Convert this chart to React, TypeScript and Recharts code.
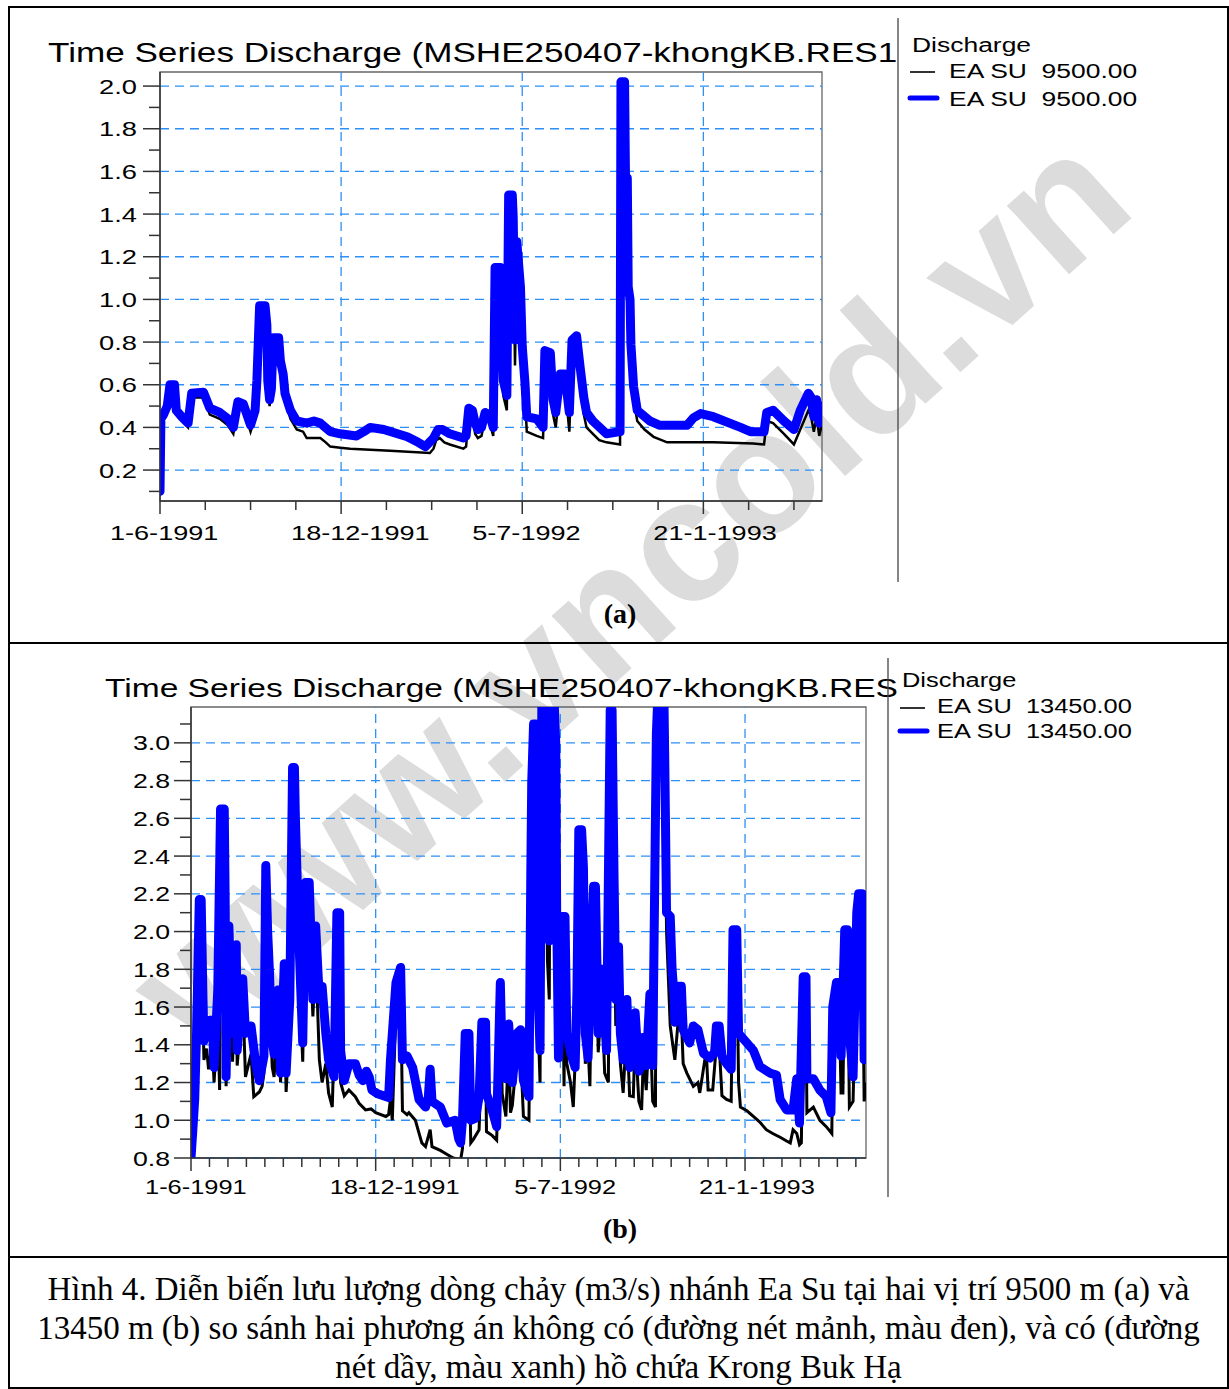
import React from "react"
import { LineChart, Line, XAxis, YAxis, ReferenceLine, ReferenceArea, Legend } from "recharts"

// days counted from 1-6-1991
const majorDays = [0, 200, 400, 600]
const dateLabels = ["1-6-1991", "18-12-1991", "5-7-1992", "21-1-1993"]

const xTicksA = [0, 50, 100, 150, 200, 250, 300, 350, 400, 450, 500, 550, 600, 650, 700]
const xTicksB = [
  0, 20, 40, 60, 80, 100, 120, 140, 160, 180, 200, 220, 240, 260, 280, 300, 320, 340, 360, 380,
  400, 420, 440, 460, 480, 500, 520, 540, 560, 580, 600, 620, 640, 660, 680, 700, 720,
]
const yTicksA = [0.1, 0.2, 0.3, 0.4, 0.5, 0.6, 0.7, 0.8, 0.9, 1.0, 1.1, 1.2, 1.3, 1.4, 1.5, 1.6, 1.7, 1.8, 1.9, 2.0]
const yTicksB = [
  0.8, 0.9, 1.0, 1.1, 1.2, 1.3, 1.4, 1.5, 1.6, 1.7, 1.8, 1.9, 2.0, 2.1, 2.2, 2.3, 2.4, 2.5, 2.6, 2.7, 2.8,
  2.9, 3.0, 3.1,
]
const gridA = [0.2, 0.4, 0.6, 0.8, 1.0, 1.2, 1.4, 1.6, 1.8, 2.0]
const gridB = [0.8, 1.0, 1.2, 1.4, 1.6, 1.8, 2.0, 2.2, 2.4, 2.6, 2.8, 3.0]

// (a) EA SU 9500 m, without reservoir (thin black)
const blackA: [number, number][] = [
  [0, 0.1], [1, 0.42], [8, 0.48], [11, 0.58], [16, 0.58], [18, 0.46], [31, 0.4], [35, 0.54], [48, 0.54],
  [55, 0.46], [66, 0.44], [75, 0.41], [81, 0.37], [86, 0.5], [92, 0.49], [100, 0.38], [105, 0.45],
  [107, 0.6], [110, 0.95], [116, 0.95], [118, 0.86], [119, 0.6], [121, 0.5], [123, 0.56], [125, 0.8],
  [131, 0.8], [133, 0.69], [136, 0.62], [138, 0.53], [144, 0.44], [151, 0.39], [158, 0.38], [162, 0.35],
  [177, 0.35], [183, 0.33], [188, 0.31], [199, 0.305], [210, 0.3], [254, 0.29], [298, 0.28], [302, 0.3],
  [305, 0.34], [309, 0.35], [314, 0.33], [320, 0.32], [335, 0.3], [338, 0.31], [341, 0.46], [345, 0.45],
  [348, 0.37], [351, 0.35], [355, 0.36], [359, 0.44], [364, 0.42], [368, 0.36], [370, 1.12], [376, 1.12],
  [377, 0.86], [379, 0.55], [383, 0.48], [385, 1.46], [389, 1.46], [390, 1.35], [392, 0.69], [394, 1.22],
  [398, 1.0], [400, 0.72], [403, 0.55], [405, 0.38], [416, 0.36], [423, 0.35], [425, 0.72], [431, 0.71],
  [434, 0.46], [437, 0.4], [442, 0.62], [447, 0.61], [452, 0.38], [455, 0.78], [460, 0.8], [464, 0.63],
  [468, 0.46], [471, 0.4], [478, 0.37], [485, 0.34], [493, 0.33], [508, 0.32], [509, 2.0], [513, 2.0],
  [514, 1.55], [516, 1.55], [517, 1.02], [519, 0.96], [520, 0.74], [523, 0.53], [527, 0.43], [535, 0.39],
  [545, 0.356], [560, 0.33], [611, 0.33], [655, 0.325], [667, 0.32], [670, 0.43], [677, 0.42], [689, 0.37],
  [700, 0.32], [707, 0.39], [716, 0.48], [719, 0.45], [722, 0.38], [725, 0.45], [728, 0.36], [731, 0.42],
]

// (a) with reservoir (thick blue)
const blueA: [number, number][] = [
  [0, 0.1], [1, 0.44], [4, 0.46], [8, 0.5], [11, 0.6], [16, 0.6], [18, 0.48], [24, 0.45], [31, 0.42],
  [35, 0.56], [48, 0.565], [55, 0.49], [66, 0.47], [75, 0.44], [81, 0.4], [86, 0.52], [92, 0.51], [100, 0.41],
  [105, 0.48], [107, 0.62], [110, 0.97], [116, 0.97], [118, 0.88], [119, 0.62], [121, 0.53], [123, 0.58],
  [125, 0.82], [131, 0.82], [133, 0.71], [136, 0.65], [138, 0.56], [144, 0.48], [151, 0.43], [162, 0.42],
  [170, 0.43], [177, 0.42], [188, 0.38], [199, 0.37], [217, 0.36], [225, 0.38], [232, 0.4], [247, 0.39],
  [273, 0.356], [285, 0.33], [293, 0.31], [302, 0.35], [307, 0.39], [312, 0.39], [320, 0.37], [335, 0.35],
  [338, 0.36], [341, 0.49], [345, 0.48], [348, 0.42], [351, 0.39], [355, 0.4], [359, 0.47], [364, 0.46],
  [368, 0.4], [370, 1.15], [376, 1.15], [377, 0.9], [379, 0.62], [383, 0.55], [385, 1.49], [389, 1.49],
  [390, 1.39], [392, 0.81], [394, 1.27], [398, 1.06], [400, 0.78], [403, 0.61], [405, 0.45], [416, 0.44],
  [423, 0.4], [425, 0.76], [431, 0.75], [434, 0.53], [437, 0.47], [442, 0.65], [447, 0.65], [452, 0.47],
  [455, 0.81], [460, 0.83], [464, 0.68], [468, 0.54], [471, 0.47], [478, 0.43], [493, 0.37], [508, 0.38],
  [509, 2.02], [513, 2.02], [514, 1.57], [516, 1.57], [517, 1.06], [519, 1.0], [520, 0.79], [523, 0.59],
  [527, 0.48], [541, 0.43], [552, 0.41], [582, 0.41], [589, 0.445], [597, 0.465], [611, 0.45], [641, 0.4],
  [652, 0.38], [667, 0.38], [670, 0.47], [677, 0.48], [689, 0.43], [700, 0.39], [707, 0.48], [716, 0.56],
  [719, 0.54], [722, 0.45], [725, 0.53], [728, 0.42], [731, 0.5],
]

// (b) EA SU 13450 m, without reservoir (thin black)
const blackB: [number, number][] = [
  [0, 0.8], [2, 0.93], [4, 1.08], [6, 1.4], [9, 2.1], [11, 2.1], [13, 1.55], [14, 1.32], [17, 1.38],
  [19, 1.27], [23, 1.4], [25, 1.2], [29, 1.55], [31, 1.16], [32, 2.55], [36, 2.55], [37, 2.05], [38, 1.18],
  [41, 1.95], [45, 1.31], [49, 1.85], [50, 1.29], [56, 1.66], [59, 1.23], [65, 1.35], [68, 1.125], [74, 1.15],
  [77, 1.18], [79, 1.25], [81, 2.25], [83, 1.9], [85, 1.66], [88, 1.28], [90, 1.23], [94, 1.55], [97, 1.2],
  [101, 1.7], [103, 1.15], [107, 1.5], [110, 2.78], [112, 2.78], [113, 2.5], [117, 1.8], [121, 1.31],
  [124, 2.15], [128, 2.15], [130, 1.8], [132, 1.55], [135, 1.9], [139, 1.32], [142, 1.2], [146, 1.3],
  [149, 1.145], [153, 1.07], [158, 1.95], [161, 1.95], [162, 1.2], [166, 1.13], [171, 1.16], [178, 1.125],
  [182, 1.09], [189, 1.055], [195, 1.06], [200, 1.04], [211, 1.02], [214, 1.03], [216, 1.11], [218, 1.0],
  [222, 1.6], [227, 1.7], [229, 1.05], [234, 1.03], [236, 1.04], [243, 1.0], [247, 0.93], [250, 0.88],
  [254, 0.86], [259, 0.95], [261, 0.86], [270, 0.84], [277, 0.82], [284, 0.8], [292, 0.79], [294, 0.85],
  [297, 1.35], [301, 1.35], [303, 0.88], [306, 0.9], [312, 0.95], [315, 1.4], [319, 1.4], [320, 0.94],
  [326, 0.92], [331, 0.895], [335, 1.6], [337, 1.14], [341, 1.02], [344, 1.4], [346, 1.04], [348, 1.08],
  [353, 1.35], [357, 1.36], [360, 1.02], [366, 1.0], [368, 2.15], [369, 2.6], [371, 2.95], [373, 2.95],
  [375, 1.65], [378, 1.2], [380, 3.2], [384, 3.2], [386, 1.85], [388, 1.64], [389, 3.2], [393, 3.2],
  [395, 2.85], [396, 1.95], [398, 1.33], [402, 1.95], [404, 1.18], [405, 1.9], [407, 1.3], [411, 1.2],
  [414, 1.07], [418, 1.55], [420, 2.4], [423, 2.4], [425, 2.15], [427, 1.3], [430, 1.39], [432, 1.18],
  [434, 1.85], [436, 2.1], [438, 2.1], [441, 1.36], [445, 1.65], [448, 1.25], [452, 1.2], [454, 3.1],
  [456, 3.1], [458, 2.2], [460, 1.5], [463, 1.8], [465, 1.3], [468, 1.145], [472, 1.5], [475, 1.13],
  [479, 1.125], [481, 1.45], [485, 1.1], [488, 1.055], [490, 1.35], [493, 1.16], [497, 1.55], [500, 1.1],
  [503, 1.07], [504, 2.95], [506, 3.2], [512, 3.2], [513, 2.85], [515, 2.0], [519, 1.5], [522, 1.39],
  [524, 1.32], [528, 1.55], [531, 1.55], [533, 1.3], [537, 1.25], [544, 1.18], [549, 1.2], [551, 1.145],
  [558, 1.37], [560, 1.16], [565, 1.16], [569, 1.4], [572, 1.4], [575, 1.13], [580, 1.11], [585, 1.1],
  [587, 1.9], [591, 1.9], [593, 1.2], [595, 1.07], [602, 1.05], [609, 1.02], [616, 0.99], [623, 0.95],
  [630, 0.93], [638, 0.91], [645, 0.89], [649, 0.88], [652, 0.95], [656, 0.93], [659, 0.87], [661, 0.88],
  [663, 1.65], [666, 1.65], [667, 1.04], [674, 1.07], [681, 1.0], [688, 0.966], [694, 0.93], [695, 1.45],
  [699, 1.6], [702, 1.6], [704, 1.145], [706, 1.145], [708, 1.9], [711, 1.9], [713, 1.07], [717, 1.1],
  [721, 1.95], [723, 2.05], [727, 2.05], [729, 1.1], [731, 1.2],
]

// (b) with reservoir (thick blue)
const blueB: [number, number][] = [
  [0, 0.8], [2, 0.95], [4, 1.11], [6, 1.46], [9, 2.17], [11, 2.17], [13, 1.64], [14, 1.42], [17, 1.5],
  [20, 1.53], [23, 1.53], [25, 1.28], [29, 1.69], [32, 2.65], [36, 2.65], [37, 2.17], [38, 1.23], [41, 2.03],
  [45, 1.46], [49, 1.93], [50, 1.37], [56, 1.75], [59, 1.46], [65, 1.5], [70, 1.3], [74, 1.21], [79, 1.34],
  [81, 2.35], [83, 2.0], [85, 1.78], [87, 1.46], [90, 1.35], [94, 1.69], [97, 1.25], [101, 1.83], [103, 1.25],
  [107, 1.64], [110, 2.87], [112, 2.87], [113, 2.61], [117, 1.94], [121, 1.41], [124, 2.26], [128, 2.26],
  [130, 1.96], [132, 1.64], [135, 2.03], [139, 1.64], [142, 1.71], [146, 1.46], [149, 1.32], [155, 1.23],
  [158, 2.1], [161, 2.1], [162, 1.37], [166, 1.21], [171, 1.3], [178, 1.3], [182, 1.24], [186, 1.21],
  [190, 1.26], [193, 1.23], [196, 1.16], [202, 1.14], [214, 1.12], [216, 1.32], [222, 1.73], [227, 1.81],
  [229, 1.32], [234, 1.34], [240, 1.28], [247, 1.11], [254, 1.07], [257, 1.12], [259, 1.27], [261, 1.1],
  [270, 1.07], [277, 0.985], [286, 1.0], [290, 0.9], [292, 0.88], [294, 1.0], [297, 1.46], [301, 1.46],
  [303, 1.0], [308, 1.01], [312, 1.125], [315, 1.52], [319, 1.52], [320, 1.14], [326, 1.055], [331, 0.966],
  [335, 1.73], [337, 1.32], [341, 1.22], [344, 1.51], [348, 1.2], [353, 1.46], [357, 1.48], [360, 1.21],
  [366, 1.125], [368, 2.31], [369, 2.79], [371, 3.1], [373, 3.1], [375, 1.82], [378, 1.37], [380, 3.25],
  [384, 3.25], [386, 2.0], [388, 1.95], [389, 3.25], [393, 3.25], [395, 3.0], [396, 2.11], [398, 1.33],
  [402, 2.08], [405, 2.08], [407, 1.46], [411, 1.36], [416, 1.28], [418, 1.69], [420, 2.54], [423, 2.54],
  [425, 2.34], [427, 1.46], [430, 1.33], [434, 1.99], [436, 2.24], [438, 2.24], [441, 1.46], [445, 1.8],
  [450, 1.37], [454, 3.175], [456, 3.175], [458, 2.34], [460, 1.64], [463, 1.92], [465, 1.46], [468, 1.32],
  [472, 1.64], [475, 1.28], [481, 1.57], [485, 1.26], [488, 1.29], [490, 1.44], [493, 1.29], [497, 1.67],
  [500, 1.29], [504, 3.05], [506, 3.3], [512, 3.3], [513, 2.93], [515, 2.1], [519, 2.08], [521, 1.8],
  [523, 1.67], [524, 1.52], [528, 1.71], [531, 1.71], [533, 1.48], [540, 1.41], [544, 1.5], [549, 1.48],
  [555, 1.355], [562, 1.33], [567, 1.36], [569, 1.5], [572, 1.5], [575, 1.34], [580, 1.3], [585, 1.27],
  [587, 2.01], [591, 2.01], [593, 1.46], [602, 1.41], [609, 1.37], [616, 1.285], [627, 1.25], [634, 1.24],
  [638, 1.11], [645, 1.055], [652, 1.055], [656, 1.22], [659, 0.985], [663, 1.76], [666, 1.76], [667, 1.22],
  [674, 1.22], [681, 1.16], [688, 1.125], [693, 1.04], [695, 1.6], [699, 1.73], [702, 1.73], [704, 1.34],
  [708, 2.01], [711, 2.01], [713, 1.46], [717, 1.23], [721, 2.1], [723, 2.2], [727, 2.2], [729, 1.32],
  [731, 1.4],
]

const toRows = (pts: [number, number][]) => pts.map(([day, q]) => ({ day, q }))

const SANS = "'Liberation Sans', Arial, sans-serif"
const SERIF = "'Liberation Serif', 'Times New Roman', serif"
const GRID = "#2e8ff5"
const AXIS = "#333"

function YTick(props: any) {
  const { x, y, payload, fs, sx, gap } = props
  const v = payload.value
  const major = Math.round(v * 10) % 2 === 0
  return (
    <g>
      <line x1={x} x2={x - (major ? 17 : 11)} y1={y} y2={y} stroke={AXIS} strokeWidth={1.5} />
      {major && (
        <text
          transform={`translate(${x - gap},${y}) scale(${sx},1)`}
          textAnchor="end"
          dy="0.36em"
          fontSize={fs}
          fontFamily={SANS}
          fill="#000"
        >
          {v.toFixed(1)}
        </text>
      )}
    </g>
  )
}

function XTick(props: any) {
  const { x, y, payload, fs, sx, off, down } = props
  const idx = majorDays.indexOf(payload.value)
  const major = idx >= 0
  return (
    <g>
      <line x1={x} x2={x} y1={y} y2={y + (major ? 13 : 9)} stroke={AXIS} strokeWidth={1.5} />
      {major && (
        <text
          transform={`translate(${x + off},${y + down}) scale(${sx},1)`}
          textAnchor="start"
          dy="0.36em"
          fontSize={fs}
          fontFamily={SANS}
          fill="#000"
        >
          {dateLabels[idx]}
        </text>
      )}
    </g>
  )
}

// legend block to the right of the plot, with the separator line
function LegendBox(props: {
  station: string
  fs: number
  sx: number
  sepH: number
  headY: number
  row1: number
  row2: number
  textX: number
}) {
  const { station, fs, sx, sepH, headY, row1, row2, textX } = props
  const txt = (x: number, y: number, s: string) => (
    <text transform={`translate(${x},${y}) scale(${sx},1)`} dy="0.36em" fontSize={fs} fontFamily={SANS} fill="#000">
      {s}
    </text>
  )
  return (
    <svg width={349} height={570} style={{ display: "block" }}>
      <line x1={18} x2={18} y1={0} y2={sepH} stroke="#444" strokeWidth={1.3} />
      {txt(32, headY, "Discharge")}
      <line x1={30} x2={55} y1={row1 + 2} y2={row1 + 2} stroke="#000" strokeWidth={1.6} />
      {txt(textX, row1, `EA SU\u00a0\u00a0${station}`)}
      <line x1={30} x2={57} y1={row2} y2={row2} stroke="#0000ff" strokeWidth={5} strokeLinecap="round" />
      {txt(textX, row2, `EA SU\u00a0\u00a0${station}`)}
    </svg>
  )
}

export default function App() {
  return (
    <div
      style={{
        position: "relative",
        width: 1229,
        height: 1389,
        background: "#fff",
        overflow: "hidden",
        fontFamily: SANS,
      }}
    >
      <style>{"body{margin:0}"}</style>

      {/* watermark */}
      <div
        style={{
          position: "absolute",
          left: 628,
          top: 590,
          transform: "translate(-50%,-50%) rotate(-42deg)",
          fontSize: 175,
          fontWeight: "bold",
          color: "#dcdcdc",
          whiteSpace: "nowrap",
          fontFamily: SANS,
          lineHeight: 1,
        }}
      >
        www.vncold.vn
      </div>

      {/* table frame */}
      <div
        style={{
          position: "absolute",
          left: 8,
          top: 6,
          width: 1221,
          height: 1383,
          border: "2px solid #000",
          boxSizing: "border-box",
        }}
      />
      <div style={{ position: "absolute", left: 8, top: 642, width: 1221, height: 2, background: "#000" }} />
      <div style={{ position: "absolute", left: 8, top: 1256, width: 1221, height: 2, background: "#000" }} />

      {/* titles */}
      <div
        style={{
          position: "absolute",
          left: 48,
          top: 37,
          fontSize: 27,
          lineHeight: "32px",
          whiteSpace: "nowrap",
          transform: "scale(1.3,1)",
          transformOrigin: "left top",
        }}
      >
        Time Series Discharge (MSHE250407-khongKB.RES1
      </div>
      <div
        style={{
          position: "absolute",
          left: 105,
          top: 672,
          fontSize: 26,
          lineHeight: "32px",
          whiteSpace: "nowrap",
          transform: "scale(1.29,1)",
          transformOrigin: "left top",
        }}
      >
        Time Series Discharge (MSHE250407-khongKB.RES
      </div>

      {/* chart (a) */}
      <div style={{ position: "absolute", left: 0, top: 0 }}>
        <LineChart width={1229} height={560} margin={{ top: 72, right: 407, bottom: 9, left: 0 }}>
          <XAxis
            type="number"
            dataKey="day"
            domain={[0, 731]}
            allowDataOverflow
            ticks={xTicksA}
            interval={0}
            height={50}
            tickSize={0}
            tickMargin={0}
            axisLine={{ stroke: AXIS, strokeWidth: 1.5 }}
            tick={(p: any) => <XTick {...p} fs={21} sx={1.29} off={-50} down={31} />}
          />
          <YAxis
            type="number"
            dataKey="q"
            domain={[0.055, 2.066]}
            allowDataOverflow
            ticks={yTicksA}
            interval={0}
            width={160}
            tickSize={0}
            tickMargin={0}
            axisLine={{ stroke: AXIS, strokeWidth: 1.5 }}
            tick={(p: any) => <YTick {...p} fs={21} sx={1.3} gap={23} />}
          />
          <ReferenceArea x1={0} x2={731} y1={0.055} y2={2.066} fill="none" stroke="#666" strokeWidth={1.3} />
          {gridA.map((v) => (
            <ReferenceLine key={"ha" + v} y={v} stroke={GRID} strokeWidth={1.3} strokeDasharray="9 6" />
          ))}
          {majorDays.slice(1).map((d) => (
            <ReferenceLine key={"va" + d} x={d} stroke={GRID} strokeWidth={1.3} strokeDasharray="9 6" />
          ))}
          <Line
            data={toRows(blackA)}
            dataKey="q"
            type="linear"
            stroke="#000"
            strokeWidth={2.5}
            dot={false}
            isAnimationActive={false}
            name="EA SU 9500.00"
          />
          <Line
            data={toRows(blueA)}
            dataKey="q"
            type="linear"
            stroke="#0000ff"
            strokeWidth={9}
            strokeLinejoin="round"
            strokeLinecap="round"
            dot={false}
            isAnimationActive={false}
            name="EA SU 9500.00"
          />
          <Legend
            layout="vertical"
            align="center"
            verticalAlign="middle"
            wrapperStyle={{ left: 880, top: 18, width: 349, height: 570 }}
            content={() => (
              <LegendBox station="9500.00" fs={21} sx={1.26} sepH={564} headY={26} row1={52} row2={80} textX={69} />
            )}
          />
        </LineChart>
      </div>

      {/* chart (b) */}
      <div style={{ position: "absolute", left: 0, top: 640 }}>
        <LineChart width={1229} height={580} margin={{ top: 67, right: 363, bottom: 12, left: 0 }}>
          <XAxis
            type="number"
            dataKey="day"
            domain={[0, 731]}
            allowDataOverflow
            ticks={xTicksB}
            interval={0}
            height={50}
            tickSize={0}
            tickMargin={0}
            axisLine={{ stroke: AXIS, strokeWidth: 1.5 }}
            tick={(p: any) => <XTick {...p} fs={20} sx={1.27} off={-46} down={29} />}
          />
          <YAxis
            type="number"
            dataKey="q"
            domain={[0.8, 3.19]}
            allowDataOverflow
            ticks={yTicksB}
            interval={0}
            width={191}
            tickSize={0}
            tickMargin={0}
            axisLine={{ stroke: AXIS, strokeWidth: 1.5 }}
            tick={(p: any) => <YTick {...p} fs={21} sx={1.27} gap={21} />}
          />
          <ReferenceArea x1={0} x2={731} y1={0.8} y2={3.19} fill="none" stroke="#666" strokeWidth={1.3} />
          {gridB.map((v) => (
            <ReferenceLine key={"hb" + v} y={v} stroke={GRID} strokeWidth={1.3} strokeDasharray="9 6" />
          ))}
          {majorDays.slice(1).map((d) => (
            <ReferenceLine key={"vb" + d} x={d} stroke={GRID} strokeWidth={1.3} strokeDasharray="9 6" />
          ))}
          <Line
            data={toRows(blackB)}
            dataKey="q"
            type="linear"
            stroke="#000"
            strokeWidth={3}
            dot={false}
            isAnimationActive={false}
            name="EA SU 13450.00"
          />
          <Line
            data={toRows(blueB)}
            dataKey="q"
            type="linear"
            stroke="#0000ff"
            strokeWidth={9}
            strokeLinejoin="round"
            strokeLinecap="round"
            dot={false}
            isAnimationActive={false}
            name="EA SU 13450.00"
          />
          <Legend
            layout="vertical"
            align="center"
            verticalAlign="middle"
            wrapperStyle={{ left: 870, top: 18, width: 349, height: 560 }}
            content={() => (
              <LegendBox station="13450.00" fs={20} sx={1.27} sepH={539} headY={22} row1={48} row2={73} textX={67} />
            )}
          />
        </LineChart>
      </div>

      {/* panel labels */}
      <div
        style={{
          position: "absolute",
          left: 0,
          width: 1240,
          top: 598,
          textAlign: "center",
          fontFamily: SERIF,
          fontWeight: "bold",
          fontSize: 28,
        }}
      >
        (a)
      </div>
      <div
        style={{
          position: "absolute",
          left: 0,
          width: 1240,
          top: 1213,
          textAlign: "center",
          fontFamily: SERIF,
          fontWeight: "bold",
          fontSize: 28,
        }}
      >
        (b)
      </div>

      {/* caption */}
      <div
        style={{
          position: "absolute",
          left: 8,
          width: 1221,
          top: 1270,
          textAlign: "center",
          fontFamily: SERIF,
          fontSize: 33,
          lineHeight: "39px",
          color: "#000",
          whiteSpace: "nowrap",
        }}
      >
        <div>Hình 4. Diễn biến lưu lượng dòng chảy (m3/s) nhánh Ea Su tại hai vị trí 9500 m (a) và</div>
        <div>13450 m (b) so sánh hai phương án không có (đường nét mảnh, màu đen), và có (đường</div>
        <div>nét dầy, màu xanh) hồ chứa Krong Buk Hạ</div>
      </div>
    </div>
  )
}
